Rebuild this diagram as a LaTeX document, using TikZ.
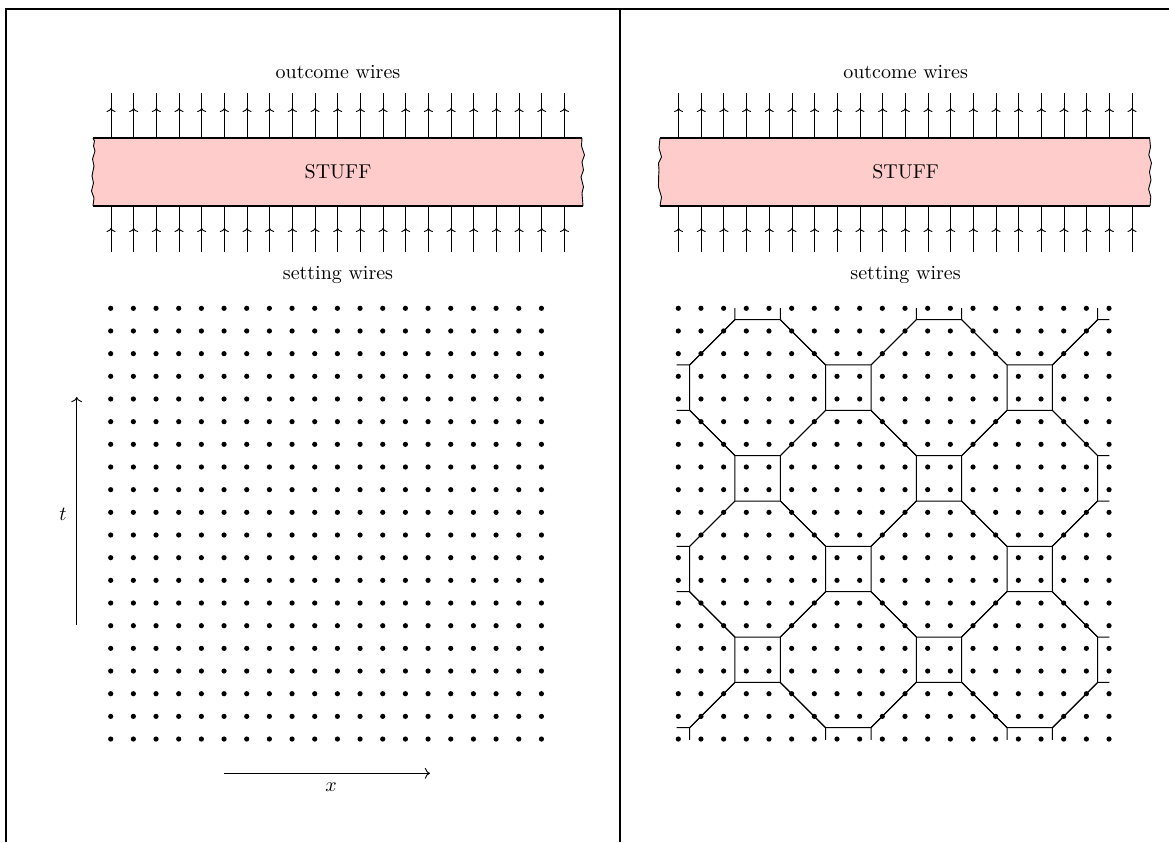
\documentclass[tikz,border=0pt]{standalone}
\usetikzlibrary{arrows.meta}
\definecolor{stuffpink}{RGB}{255,204,204}
\begin{document}
\begin{tikzpicture}[x=0.5pt,y=-0.5pt,
  frameline/.style={line width=1pt},
  wire/.style={line width=0.45pt},
  wiretip/.style={line width=0.45pt,-{To[length=2pt,width=4.5pt]}},
  boxedge/.style={line width=0.8pt},
  tornedge/.style={line width=0.45pt},
  tileline/.style={line width=0.5pt},
  dot/.style={fill=black},
  axis/.style={line width=0.45pt,->}]
\useasboundingbox (0,0) rectangle (1169,842);
% frame
\draw[frameline] (5.5,842) -- (5.5,9.2) -- (1169,9.2);
\draw[frameline] (619.5,9.2) -- (619.5,842);

% ---------- panel contents (shared) ----------
\foreach \sx/\pn in {0/L,567.6/R}{
\begin{scope}[shift={(\sx,0)}]
  \node (out\pn) at (338,72) {outcome wires};
  \node (set\pn) at (338,275) {setting wires};
  \foreach \k in {0,...,20}{
    \draw[wire] (111+22.67*\k,138) -- (111+22.67*\k,93);
    \draw[wiretip] (111+22.67*\k,138) -- (111+22.67*\k,108);
    \draw[wire] (111+22.67*\k,206) -- (111+22.67*\k,252);
    \draw[wiretip] (111+22.67*\k,252) -- (111+22.67*\k,228);
  }
  \foreach \i in {0,...,19}{
    \foreach \j in {0,...,19}{
      \fill[dot] (110.7+22.67*\i,308.3+22.67*\j) circle[radius=1.3pt];
    }
  }
\end{scope}
}

% ---------- left box ----------
\fill[stuffpink] (93,138) -- (582,138) -- (581.5,146) -- (584.5,155) -- (582,162) -- (583.5,170) -- (581,177) -- (583.5,187) -- (582,193) -- (583,206) -- (93,206) -- (94,198) -- (91.5,191) -- (93.5,183) -- (92,176) -- (94,166) -- (92.5,159) -- (95,151) -- (93.5,146) -- (94.5,141) -- cycle;
\draw[tornedge] (582,138) -- (581.5,146) -- (584.5,155) -- (582,162) -- (583.5,170) -- (581,177) -- (583.5,187) -- (582,193) -- (583,206);
\draw[tornedge] (93,206) -- (94,198) -- (91.5,191) -- (93.5,183) -- (92,176) -- (94,166) -- (92.5,159) -- (95,151) -- (93.5,146) -- (94.5,141) -- (93,138);
\draw[boxedge] (93,138) -- (582,138);
\draw[boxedge] (93,206) -- (583,206);
\node (stuffL) at (338,172) {STUFF};

% ---------- right box ----------
\fill[stuffpink] (660,138) -- (1149.6,138) -- (1150.5,147) -- (1148.8,155) -- (1151.5,163) -- (1149.5,172) -- (1151,180) -- (1148.6,189) -- (1150.8,197) -- (1150,206) -- (660,206) -- (661.5,197) -- (658.5,187) -- (658.6,177) -- (659,170) -- (658.5,163) -- (661.5,157) -- (659,148) -- cycle;
\draw[tornedge] (1149.6,138) -- (1150.5,147) -- (1148.8,155) -- (1151.5,163) -- (1149.5,172) -- (1151,180) -- (1148.6,189) -- (1150.8,197) -- (1150,206);
\draw[tornedge] (660,206) -- (661.5,197) -- (658.5,187) -- (658.6,177) -- (659,170) -- (658.5,163) -- (661.5,157) -- (659,148) -- (660,138);
\draw[boxedge] (660,138) -- (1149.6,138);
\draw[boxedge] (660,206) -- (1150,206);
\node (stuffR) at (905.6,172) {STUFF};

% ---------- axes (left panel) ----------
\coordinate (tbot) at (76.7,625);
\coordinate (ttop) at (76.7,397);
\draw[axis] (tbot) -- (ttop);
\node (tlab) at (63,514) {$t$};
\coordinate (xl) at (224,773.3);
\coordinate (xr) at (430,773.3);
\draw[axis] (xl) -- (xr);
\node (xlab) at (331,787) {$x$};

% ---------- truncated square tiling (right panel) ----------
\begin{scope}[shift={(678.3,308.3)},x=11.335pt,y=-11.335pt]
  \clip (-0.07,-0.01) rectangle (19.02,19.03);
  \foreach \p in {-1,...,2}{
    \foreach \q in {-1,...,2}{
      \draw[tileline] (3.5+8*\p,3.5+8*\q) ++(-1,-3) -- ++(2,0) -- ++(2,2) -- ++(0,2) -- ++(-2,2) -- ++(-2,0) -- ++(-2,-2) -- ++(0,-2) -- cycle;
      \draw[tileline] (7.5+8*\p,7.5+8*\q) ++(-1,-3) -- ++(2,0) -- ++(2,2) -- ++(0,2) -- ++(-2,2) -- ++(-2,0) -- ++(-2,-2) -- ++(0,-2) -- cycle;
    }
  }
\end{scope}
\end{tikzpicture}
\end{document}
